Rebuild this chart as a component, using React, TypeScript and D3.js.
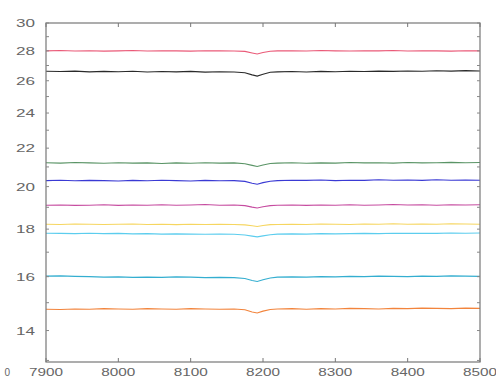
import React from "react";
import * as d3 from "d3";

const X = [7900,7920,7940,7960,7980,8000,8020,8040,8060,8080,8100,8120,8140,8160,8175,8185,8192,8200,8210,8220,8240,8260,8280,8300,8320,8340,8360,8380,8400,8420,8440,8460,8480,8500];

const red = [28.00,28.02,27.99,28.01,27.98,28.00,28.02,27.99,28.01,28.00,27.98,28.01,28.00,27.99,27.96,27.85,27.78,27.88,27.97,28.00,28.01,27.99,28.02,28.00,27.99,28.01,28.00,28.02,27.99,28.01,28.00,27.98,28.01,28.00];
const black = [26.62,26.60,26.63,26.58,26.61,26.59,26.62,26.57,26.60,26.58,26.61,26.56,26.59,26.57,26.52,26.38,26.30,26.42,26.55,26.58,26.60,26.57,26.61,26.59,26.62,26.60,26.63,26.61,26.64,26.62,26.65,26.63,26.66,26.64];
const green = [21.22,21.20,21.23,21.21,21.19,21.22,21.20,21.21,21.18,21.21,21.19,21.22,21.20,21.21,21.17,21.08,21.02,21.10,21.18,21.20,21.22,21.19,21.21,21.20,21.23,21.21,21.22,21.20,21.23,21.21,21.22,21.24,21.22,21.23];
const blue = [20.30,20.32,20.29,20.31,20.30,20.28,20.31,20.29,20.32,20.30,20.28,20.31,20.29,20.30,20.26,20.17,20.12,20.20,20.27,20.30,20.32,20.31,20.33,20.30,20.32,20.31,20.34,20.32,20.33,20.31,20.34,20.32,20.33,20.32];
const magenta = [19.10,19.11,19.09,19.10,19.12,19.09,19.11,19.10,19.12,19.10,19.11,19.13,19.10,19.11,19.08,19.01,18.97,19.03,19.08,19.10,19.11,19.09,19.11,19.10,19.12,19.10,19.11,19.13,19.11,19.12,19.10,19.12,19.11,19.12];
const yellow = [18.22,18.21,18.23,18.22,18.21,18.22,18.23,18.21,18.22,18.20,18.22,18.21,18.22,18.21,18.19,18.15,18.12,18.16,18.20,18.21,18.22,18.21,18.23,18.22,18.21,18.23,18.22,18.24,18.22,18.23,18.22,18.24,18.23,18.22];
const lightCyan = [17.82,17.81,17.80,17.82,17.80,17.81,17.79,17.80,17.78,17.79,17.78,17.77,17.78,17.77,17.74,17.69,17.66,17.70,17.75,17.78,17.79,17.78,17.80,17.79,17.80,17.81,17.80,17.82,17.81,17.82,17.81,17.83,17.82,17.83];
const cyan = [16.02,16.03,16.01,16.00,15.98,15.99,15.97,15.98,15.97,15.99,15.98,15.96,15.97,15.96,15.93,15.85,15.81,15.88,15.95,15.98,15.99,15.98,16.00,15.99,16.01,16.00,16.02,16.01,16.00,16.02,16.01,16.03,16.02,16.01];
const orange = [14.76,14.75,14.77,14.76,14.78,14.77,14.76,14.78,14.77,14.76,14.78,14.77,14.76,14.77,14.74,14.66,14.62,14.69,14.75,14.77,14.78,14.76,14.78,14.77,14.79,14.78,14.77,14.79,14.78,14.80,14.79,14.78,14.80,14.79];

const SERIES = [
  { values: red, color: "#ea5a78" },
  { values: black, color: "#2a2a2a" },
  { values: green, color: "#5a9466" },
  { values: blue, color: "#3a3ad4" },
  { values: magenta, color: "#c64ca0" },
  { values: yellow, color: "#f6d660" },
  { values: lightCyan, color: "#5ccdee" },
  { values: cyan, color: "#34aed0" },
  { values: orange, color: "#f2843c" },
];

const X_TICKS = [7900, 8000, 8100, 8200, 8300, 8400, 8500];
const Y_LABELS = [14, 16, 18, 20, 22, 24, 26, 28, 30];
const Y_MINOR = [13, 14, 15, 16, 17, 18, 19, 20, 21, 22, 23, 24, 25, 26, 27, 28, 29, 30];

const W = 496, H = 381;
const L = 46, R = 480, T = 23, B = 362;

export default function App() {
  const x = d3.scaleLinear().domain([7900, 8500]).range([L, R]);
  const y = d3.scaleLog().domain([12.95, 30]).range([B, T]);
  const line = d3.line<number>().x((_, i) => x(X[i])).y((v) => y(v));
  const font = "Liberation Sans, Arial, sans-serif";
  return (
    <svg width={W} height={H} style={{ position: "absolute", left: 0, top: 0, background: "#fff" }}>
      {SERIES.map((s, i) => (
        <path key={i} d={line(s.values) || ""} fill="none" stroke={s.color} strokeWidth={1.1} />
      ))}
      <rect x={L} y={T} width={R - L} height={B - T} fill="none" stroke="#777" strokeWidth={1.2} />
      {X_TICKS.map((t) => (
        <g key={"x" + t}>
          <line x1={x(t)} x2={x(t)} y1={B} y2={B - 4} stroke="#777" />
          <line x1={x(t)} x2={x(t)} y1={T} y2={T + 4} stroke="#777" />
          <text x={x(t)} y={B + 14} textAnchor="middle" fontFamily={font} fontSize={10} fill="#666" textLength={34} lengthAdjust="spacingAndGlyphs">{t}</text>
        </g>
      ))}
      {Y_MINOR.map((t) => (
        <g key={"ym" + t}>
          <line x1={L} x2={L + 3} y1={y(t)} y2={y(t)} stroke="#888" />
          <line x1={R} x2={R - 3} y1={y(t)} y2={y(t)} stroke="#888" />
        </g>
      ))}
      {Y_LABELS.map((t) => (
        <text key={"yl" + t} x={35} y={y(t) + 4} textAnchor="end" fontFamily={font} fontSize={11} fill="#666" textLength={19} lengthAdjust="spacingAndGlyphs">{t}</text>
      ))}
      <text x={10} y={B + 14} textAnchor="end" fontFamily={font} fontSize={10} fill="#666">0</text>
    </svg>
  );
}
